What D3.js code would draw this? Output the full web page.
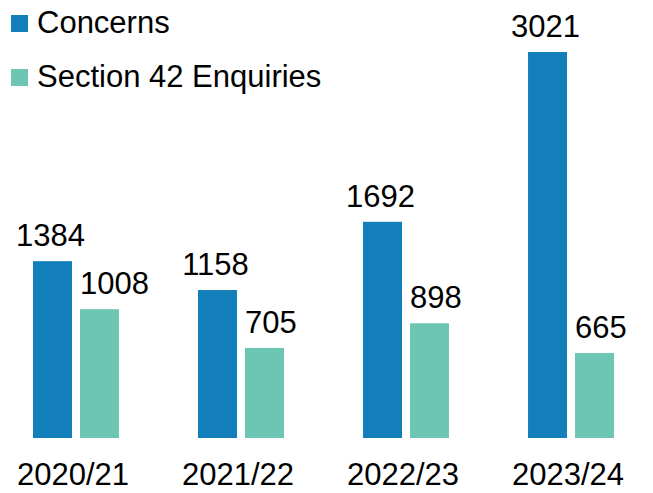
<!DOCTYPE html>
<html>
<head>
<meta charset="utf-8">
<script src="https://cdn.jsdelivr.net/npm/d3@7"></script>
<style>
  body { margin: 0; background: #fff; }
  text { font-family: "Liberation Sans", Arial, sans-serif; fill: #000; }
</style>
</head>
<body>
<script>
const years = ['2020/21', '2021/22', '2022/23', '2023/24'],
  seriesNames = ['Concerns', 'Section 42 Enquiries'],
  concerns = [1384, 1158, 1692, 3021],
  enquiries = [1008, 705, 898, 665],
  colors = ['#127fba', '#6dc6b3'],
  width = 653,
  height = 493,
  baseline = 438,
  fontSize = '31px';

const svg = d3.select('body')
  .append('svg')
  .attr('width', width)
  .attr('height', height);

const x0 = d3.scaleBand()
  .domain(years)
  .range([33, 614])
  .paddingInner(0.479)
  .paddingOuter(0);

const x1 = d3.scaleBand()
  .domain(seriesNames)
  .range([0, x0.bandwidth()])
  .paddingInner(0.17);

const y = d3.scaleLinear()
  .domain([0, 3021])
  .range([baseline, 52]);

const color = d3.scaleOrdinal().domain(seriesNames).range(colors);

const rows = years.map((yr, i) => ({
  year: yr,
  values: [
    { name: seriesNames[0], value: concerns[i] },
    { name: seriesNames[1], value: enquiries[i] }
  ]
}));

const groups = svg.append('g')
  .selectAll('g')
  .data(rows)
  .enter().append('g')
  .attr('transform', d => `translate(${x0(d.year)},0)`);

groups.selectAll('rect')
  .data(d => d.values)
  .enter().append('rect')
  .attr('x', d => x1(d.name))
  .attr('y', d => y(d.value))
  .attr('width', x1.bandwidth())
  .attr('height', d => baseline - y(d.value))
  .attr('fill', d => color(d.name));

// value labels: concerns centred, enquiries start at bar edge
groups.selectAll('text.value')
  .data(d => d.values)
  .enter().append('text')
  .attr('class', 'value')
  .attr('x', (d, i) => i === 0 ? x1(d.name) + x1.bandwidth() / 2 - 2 : x1(d.name))
  .attr('y', d => y(d.value) - 15)
  .attr('text-anchor', (d, i) => i === 0 ? 'middle' : 'start')
  .style('font-size', fontSize)
  .text(d => d.value);

// category axis labels
svg.append('g')
  .selectAll('text')
  .data(years)
  .enter().append('text')
  .attr('x', d => x0(d) + x0.bandwidth() / 2 - 3)
  .attr('y', 485)
  .attr('text-anchor', 'middle')
  .style('font-size', fontSize)
  .text(d => d);

// legend
const legend = svg.append('g')
  .selectAll('g')
  .data(seriesNames)
  .enter().append('g')
  .attr('transform', (d, i) => `translate(11,${15 + i * 54})`);

legend.append('rect')
  .attr('width', 17)
  .attr('height', 17)
  .attr('fill', d => color(d));

legend.append('text')
  .attr('x', 26)
  .attr('y', 18)
  .style('font-size', fontSize)
  .text(d => d);
</script>
</body>
</html>
